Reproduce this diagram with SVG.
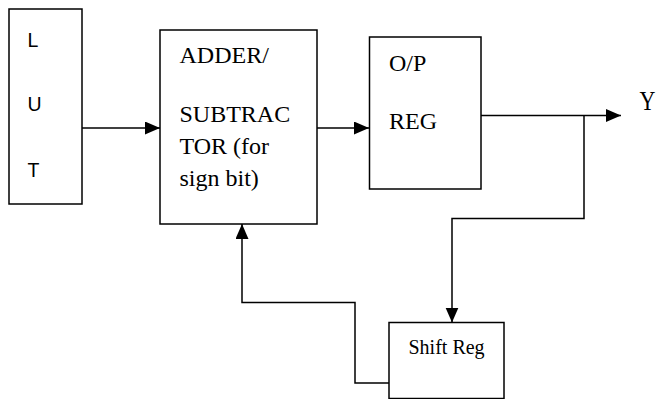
<svg xmlns="http://www.w3.org/2000/svg" width="656" height="399" viewBox="0 0 656 399">
<style>
.box{fill:#fff;stroke:#000;stroke-width:1.5}
.wire{fill:none;stroke:#000;stroke-width:1.5}
.sans{font-family:"Liberation Sans",Arial,sans-serif;font-size:19.5px;fill:#000}
.serif{font-family:"Liberation Serif","Times New Roman",serif;fill:#000}
</style>
<defs>
<marker id="arr" markerUnits="userSpaceOnUse" markerWidth="16" markerHeight="14" refX="15" refY="6.5" orient="auto">
<path d="M0,0 L15,6.5 L0,13 Z" fill="#000"/>
</marker>
</defs>
<rect width="656" height="399" fill="#fff"/>
<g id="connectors">
<line class="wire" x1="82" y1="128" x2="160" y2="128" marker-end="url(#arr)"/>
<line class="wire" x1="317" y1="128" x2="369" y2="128" marker-end="url(#arr)"/>
<line class="wire" x1="481" y1="115.5" x2="621" y2="115.5" marker-end="url(#arr)"/>
<polyline class="wire" points="584,115.5 584,218.5 452,218.5 452,322.5" marker-end="url(#arr)"/>
<polyline class="wire" points="389,383 355,383 355,302.5 242,302.5 242,224" marker-end="url(#arr)"/>
</g>
<g id="lut">
<rect class="box" x="9" y="9" width="73" height="195"/>
<text class="sans" x="27.5" y="47">L</text>
<text class="sans" x="27.5" y="110.5">U</text>
<text class="sans" x="27.5" y="176.5">T</text>
</g>
<g id="adder">
<rect class="box" x="160" y="30" width="157" height="194"/>
<text class="serif" font-size="24" x="179.5" y="62.5">ADDER/</text>
<text class="serif" font-size="24" x="179.5" y="122">SUBTRAC</text>
<text class="serif" font-size="24" x="179.5" y="154">TOR (for</text>
<text class="serif" font-size="24" x="179.5" y="186">sign bit)</text>
</g>
<g id="opreg">
<rect class="box" x="369.5" y="37" width="111.5" height="152"/>
<text class="serif" font-size="24" x="389" y="70.5">O/P</text>
<text class="serif" font-size="24" x="389" y="129">REG</text>
</g>
<g id="shiftreg">
<rect class="box" x="389" y="322.5" width="115" height="76"/>
<text class="serif" font-size="20" x="408.5" y="353.5">Shift Reg</text>
</g>
<g id="output">
<text class="serif" font-size="22" transform="translate(639.5,109.5) scale(1,1.2)">Y</text>
</g>
</svg>
